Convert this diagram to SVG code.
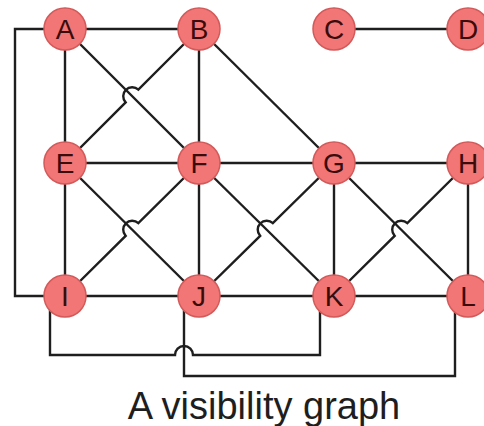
<svg xmlns="http://www.w3.org/2000/svg" width="484" height="426" viewBox="0 0 484 426">
<style>
.edge{fill:none;stroke:#1e1e1e;stroke-width:2.4;stroke-linejoin:miter}
.node circle{fill:#f27676;stroke:#d35a5a;stroke-width:1.5}
.node text{font-family:"Liberation Sans",Arial,sans-serif;font-size:28px;fill:#3a0c0c;text-anchor:middle}
.caption{font-family:"Liberation Sans",Arial,sans-serif;font-size:38px;fill:#1e1e1e;text-anchor:middle}
</style>
<rect width="484" height="426" fill="#ffffff"/>
<g id="connectors">
<path class="edge" d="M65,29 L199,29"/>
<path class="edge" d="M334,29 L468,29"/>
<path class="edge" d="M65,29 L65,296"/>
<path class="edge" d="M199,29 L199,296"/>
<path class="edge" d="M334,163 L334,296"/>
<path class="edge" d="M468,163 L468,296"/>
<path class="edge" d="M65,163 L468,163"/>
<path class="edge" d="M65,296 L468,296"/>
<path class="edge" d="M65,29 L199,163"/>
<path class="edge" d="M199,29 L334,163"/>
<path class="edge" d="M65,163 L199,296"/>
<path class="edge" d="M199,163 L334,296"/>
<path class="edge" d="M334,163 L468,296"/>
<path class="edge" d="M199,29 L138.36,89.64 A9 9 0 0 0 125.64,102.36 L65,163"/>
<path class="edge" d="M199,163 L138.36,223.14 A9 9 0 0 0 125.64,235.86 L65,296"/>
<path class="edge" d="M334,163 L272.86,223.14 A9 9 0 0 0 260.14,235.86 L199,296"/>
<path class="edge" d="M468,163 L407.36,223.14 A9 9 0 0 0 394.64,235.86 L334,296"/>
<path class="edge" d="M65,29 L15,29 L15,296 L65,296"/>
<path class="edge" d="M184,300 L184,376 L455,376 L455,300"/>
<path class="edge" d="M50,300 L50,355 L175,355 A9 9 0 0 1 193,355 L320,355 L320,300"/>
</g>
<g id="node-A" class="node"><circle cx="65" cy="29" r="21"/><text x="65" y="39">A</text></g>
<g id="node-B" class="node"><circle cx="199" cy="29" r="21"/><text x="199" y="39">B</text></g>
<g id="node-C" class="node"><circle cx="334" cy="29" r="21"/><text x="334" y="39">C</text></g>
<g id="node-D" class="node"><circle cx="468" cy="29" r="21"/><text x="468" y="39">D</text></g>
<g id="node-E" class="node"><circle cx="65" cy="163" r="21"/><text x="65" y="173">E</text></g>
<g id="node-F" class="node"><circle cx="199" cy="163" r="21"/><text x="199" y="173">F</text></g>
<g id="node-G" class="node"><circle cx="334" cy="163" r="21"/><text x="334" y="173">G</text></g>
<g id="node-H" class="node"><circle cx="468" cy="163" r="21"/><text x="468" y="173">H</text></g>
<g id="node-I" class="node"><circle cx="65" cy="296" r="21"/><text x="65" y="306">I</text></g>
<g id="node-J" class="node"><circle cx="199" cy="296" r="21"/><text x="199" y="306">J</text></g>
<g id="node-K" class="node"><circle cx="334" cy="296" r="21"/><text x="334" y="306">K</text></g>
<g id="node-L" class="node"><circle cx="468" cy="296" r="21"/><text x="468" y="306">L</text></g>
<text class="caption" x="264" y="419">A visibility graph</text>
</svg>
